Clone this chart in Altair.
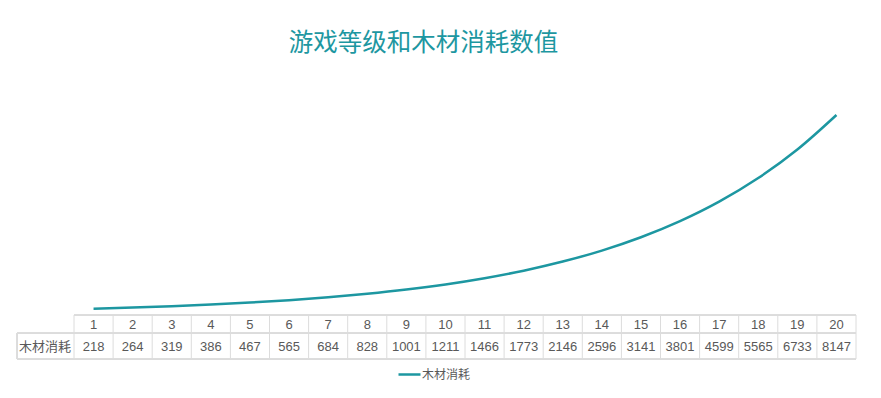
import altair as alt
import pandas as pd

levels = list(range(1, 21))
wood = [218, 264, 319, 386, 467, 565, 684, 828, 1001, 1211,
        1466, 1773, 2146, 2596, 3141, 3801, 4599, 5565, 6733, 8147]
series_name = "木材消耗"
title_text = "游戏等级和木材消耗数值"

TEAL = "#1d97a1"
GRID = "#dcdcdc"
TXT = "#595959"
NUMFONT = "Liberation Sans, Noto Sans CJK SC"
CJK = "Noto Sans CJK SC"

df = pd.DataFrame({"level": levels, "value": wood, "series": [series_name] * len(levels)})
borders = pd.DataFrame({"b": [l - 0.5 for l in levels] + [levels[-1] + 0.5]})

xs = alt.Scale(domain=[0.5, 20.5], range=[66, 848])
ys = alt.Scale(domain=[0, 8147], range=[246, 47])

line = alt.Chart(df).mark_line(interpolate="monotone", strokeWidth=2.5).encode(
    x=alt.X("level:Q", scale=xs, axis=None),
    y=alt.Y("value:Q", scale=ys, axis=None),
    color=alt.Color("series:N", scale=alt.Scale(range=[TEAL]),
                    legend=alt.Legend(orient="none", legendX=389, legendY=294, title=None,
                                      symbolType="stroke", symbolSize=484, symbolStrokeWidth=2.5,
                                      labelFont=CJK, labelFontSize=12, labelColor=TXT,
                                      labelOffset=0)),
)

vr = alt.Chart(borders).mark_rule(color=GRID, strokeWidth=1).encode(
    x=alt.X("b:Q", scale=xs, axis=None), y=alt.value(247), y2=alt.value(291))

h_top = alt.Chart(df).mark_rule(color=GRID, strokeWidth=1).encode(
    x=alt.value(66), x2=alt.value(848), y=alt.value(247))
h_mid = alt.Chart(df).mark_rule(color=GRID, strokeWidth=1).encode(
    x=alt.value(9), x2=alt.value(848), y=alt.value(265))
h_bot = alt.Chart(df).mark_rule(color=GRID, strokeWidth=1).encode(
    x=alt.value(9), x2=alt.value(848), y=alt.value(291))
v_left = alt.Chart(df).mark_rule(color=GRID, strokeWidth=1).encode(
    x=alt.value(9), y=alt.value(265), y2=alt.value(291))

head = alt.Chart(df).mark_text(font=NUMFONT, fontSize=13, color=TXT, baseline="middle").encode(
    x=alt.X("level:Q", scale=xs, axis=None), y=alt.value(257), text="level:Q")
vals = alt.Chart(df).mark_text(font=NUMFONT, fontSize=13, color=TXT, baseline="middle").encode(
    x=alt.X("level:Q", scale=xs, axis=None), y=alt.value(279), text="value:Q")
lab = alt.Chart(pd.DataFrame({"t": [series_name]})).mark_text(
    font=CJK, fontSize=13, color=TXT, baseline="middle").encode(
    x=alt.value(37), y=alt.value(279), text="t:N")

chart = alt.layer(vr, h_top, h_mid, h_bot, v_left, line, head, vals, lab).properties(
    width=865, height=322,
    title=alt.Title(title_text, anchor="middle", fontSize=24.5, color=TEAL, font=CJK,
                    fontWeight="normal", offset=12, dx=-17),
    autosize=alt.AutoSizeParams(type="none"),
    padding={"left": 0, "top": 60, "right": 0, "bottom": 0},
).configure_view(stroke=None)

chart.save("out.html", embed_options={"renderer": "svg", "actions": False})
